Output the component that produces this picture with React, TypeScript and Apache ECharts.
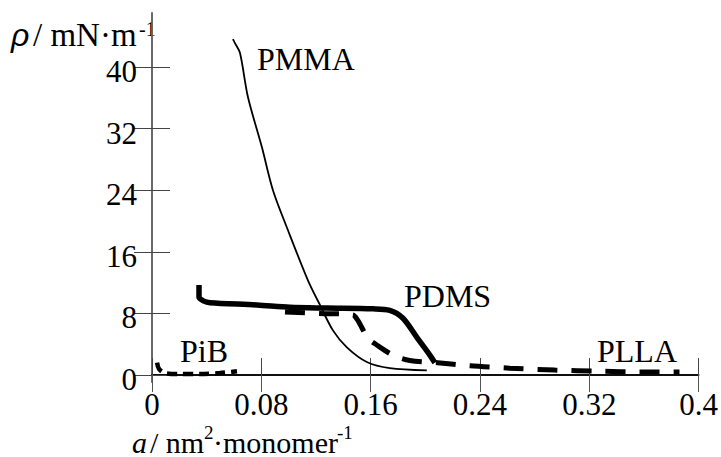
import React, { useEffect, useRef } from "react";
import * as echarts from "echarts";

const xTicks = [0, 0.08, 0.16, 0.24, 0.32, 0.4];
const yTicks = [0, 8, 16, 24, 32, 40];

const pmma: [number, number][] = [
  [0.0592, 43.6], [0.0607, 43.1], [0.0644, 41.8], [0.0702, 36.1], [0.0804, 29.6],
  [0.0885, 24.0], [0.0995, 18.8], [0.1141, 12.3], [0.1229, 9.1], [0.1324, 5.8],
  [0.1426, 3.6], [0.1572, 1.7], [0.174, 0.9], [0.2011, 0.6],
];
const pdms: [number, number][] = [
  [0.0344, 11.7], [0.0344, 10.1], [0.038, 9.6], [0.0424, 9.4], [0.0768, 9.1],
  [0.1009, 8.8], [0.128, 8.7], [0.1616, 8.6], [0.174, 8.4], [0.1835, 7.4],
  [0.1938, 4.9], [0.2033, 2.6], [0.207, 1.6],
];
const plla: [number, number][] = [
  [0.0973, 8.2], [0.1229, 8.0], [0.147, 7.8], [0.1506, 7.1], [0.158, 4.8],
  [0.1645, 3.9], [0.1762, 2.6], [0.1887, 1.9], [0.209, 1.6], [0.2325, 1.2],
  [0.2618, 0.9], [0.2947, 0.65], [0.3276, 0.5], [0.357, 0.4], [0.386, 0.4],
];
const pib: [number, number][] = [
  [0.0037, 1.6], [0.0051, 0.8], [0.0095, 0.26], [0.0205, 0.13], [0.0351, 0.13],
  [0.0497, 0.26], [0.0622, 0.5],
];

const serif = '"Liberation Serif", "Times New Roman", serif';
const sans = '"Liberation Sans", Arial, sans-serif';

const Y_MIN = -0.9;
const Y_MAX = 47;
// labels sit slightly below their ticks in the reference
const LABEL_SHIFT = 0.58;

export default function App() {
  const ref = useRef<HTMLDivElement>(null);
  useEffect(() => {
    if (!ref.current) return;
    const chart = echarts.init(ref.current, undefined, { renderer: "svg" });
    const fmt = (v: number) => (v === 0 ? "0" : String(+v.toFixed(2)));
    const axisCommon = {
      type: "value" as const,
      splitLine: { show: false },
    };
    const txt = (text: string, x: number, y: number, font: string, lh?: number) => ({
      type: "text",
      x,
      y,
      style: {
        text,
        font,
        fill: "#000",
        textAlign: "left",
        textVerticalAlign: "middle",
        ...(lh ? { lineHeight: lh } : {}),
      },
    });
    chart.setOption({
      animation: false,
      grid: { left: 152, right: 22, top: 13, bottom: 75, containLabel: false },
      xAxis: [
        {
          ...axisCommon,
          position: "bottom",
          min: 0,
          max: 0.4,
          interval: 0.08,
          axisLine: { lineStyle: { color: "#000", width: 1.5 } },
          axisTick: { inside: true, length: 17, lineStyle: { color: "#444", width: 1 } },
          axisLabel: {
            customValues: xTicks,
            formatter: fmt,
            fontFamily: serif,
            fontSize: 31,
            color: "#000",
            margin: 7,
          },
        },
        {
          ...axisCommon,
          position: "top",
          min: 0,
          max: 0.4,
          interval: 0.08,
          axisLine: { lineStyle: { color: "#000", width: 1.5 } },
          axisTick: { inside: true, length: 17, lineStyle: { color: "#555", width: 1 } },
          axisLabel: { show: false },
        },
      ],
      yAxis: [
        {
          ...axisCommon,
          position: "left",
          min: Y_MIN,
          max: Y_MAX,
          axisLine: { show: true, lineStyle: { color: "#000", width: 1.5 } },
          axisTick: {
            inside: true,
            length: 18,
            customValues: yTicks,
            lineStyle: { color: "#444", width: 1 },
          },
          axisLabel: { show: false },
        },
        {
          ...axisCommon,
          position: "right",
          min: Y_MIN,
          max: Y_MAX,
          axisLine: { show: true, lineStyle: { color: "#777", width: 1.5 } },
          axisTick: {
            inside: true,
            length: 18,
            customValues: yTicks,
            lineStyle: { color: "#444", width: 1 },
          },
          axisLabel: { show: false },
        },
        {
          ...axisCommon,
          position: "left",
          min: Y_MIN + LABEL_SHIFT,
          max: Y_MAX + LABEL_SHIFT,
          axisLine: { show: false },
          axisTick: { show: false },
          axisLabel: {
            customValues: yTicks,
            fontFamily: serif,
            fontSize: 31,
            color: "#000",
            margin: 15,
          },
        },
      ],
      series: [
        {
          name: "PMMA",
          type: "line",
          data: pmma,
          smooth: 0.3,
          showSymbol: false,
          lineStyle: { color: "#000", width: 1.8 },
        },
        {
          name: "PDMS",
          type: "line",
          data: pdms,
          smooth: 0.3,
          showSymbol: false,
          lineStyle: { color: "#000", width: 5.5 },
        },
        {
          name: "PLLA",
          type: "line",
          data: plla,
          smooth: 0.3,
          showSymbol: false,
          lineStyle: { color: "#000", width: 5, type: [20, 14] },
        },
        {
          name: "PiB",
          type: "line",
          data: pib,
          smooth: 0.3,
          showSymbol: false,
          lineStyle: { color: "#000", width: 4.5, type: [10, 6] },
        },
      ],
      graphic: [
        txt("PMMA", 257, 59, `32px ${serif}`),
        txt("PDMS", 404, 296, `32px ${serif}`),
        txt("PiB", 180, 351, `32px ${serif}`),
        txt("PLLA", 597, 351, `32px ${serif}`),
        txt("ρ", 11, 35, `italic 32px ${sans}`, 26),
        txt("/ mN·m", 33, 35, `33px ${serif}`, 26),
        txt("-1", 139, 29, `20px ${serif}`, 16),
        txt("a", 132, 442, `italic 30px ${serif}`, 24),
        txt("/ nm", 150, 442, `30px ${serif}`, 24),
        txt("2", 204, 432, `19px ${serif}`, 16),
        txt("·monomer", 213, 442, `30px ${serif}`, 24),
        txt("-1", 337, 432, `19px ${serif}`, 16),
      ],
    });
    return () => chart.dispose();
  }, []);
  return (
    <div
      ref={ref}
      style={{ position: "absolute", left: 0, top: 0, width: 721, height: 457, background: "#fff" }}
    />
  );
}
